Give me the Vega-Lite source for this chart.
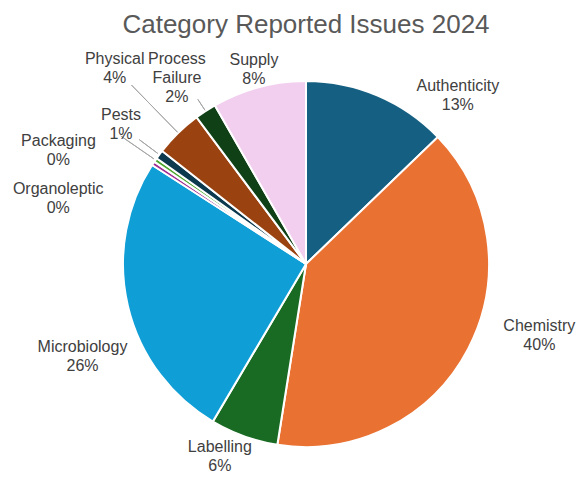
{
  "$schema": "https://vega.github.io/schema/vega-lite/v6.json",
  "width": 558,
  "height": 440,
  "autosize": "none",
  "padding": {"left": 27, "top": 44, "right": 0, "bottom": 8},
  "background": "white",
  "config": {"view": {"stroke": null}},
  "title": {"text": "Category Reported Issues 2024", "fontSize": 26, "font": "Liberation Sans", "fontWeight": "normal", "color": "#595959", "anchor": "middle", "offset": 6},
  "data": {"values": [
    {"category": "Authenticity", "value": 12.8},
    {"category": "Chemistry", "value": 39.7},
    {"category": "Labelling", "value": 6.0},
    {"category": "Microbiology", "value": 25.6},
    {"category": "Organoleptic", "value": 0.35},
    {"category": "Packaging", "value": 0.35},
    {"category": "Pests", "value": 0.8},
    {"category": "Physical", "value": 4.2},
    {"category": "Process Failure", "value": 1.9},
    {"category": "Supply", "value": 8.3}
  ]},
  "transform": [
    {"stack": "value", "groupby": [], "sort": [{"field": "category", "order": "ascending"}], "as": ["s0", "s1"]},
    {"calculate": "(datum.s0 + datum.s1) / 2", "as": "mid"},
    {"calculate": "split(datum.category + ' ' + format(datum.value / 100, '.0%'), ' ')", "as": "label"}
  ],
  "layer": [
    {
      "mark": {"type": "arc", "radius": 183, "stroke": "white", "strokeWidth": 2},
      "encoding": {
        "theta": {"field": "s0", "type": "quantitative", "scale": {"type": "linear", "domain": [0, 100], "range": [0, 6.283185307179586]}},
        "theta2": {"field": "s1"},
        "color": {"field": "category", "type": "nominal", "legend": null, "scale": {
          "domain": ["Authenticity", "Chemistry", "Labelling", "Microbiology", "Organoleptic", "Packaging", "Pests", "Physical", "Process Failure", "Supply"],
          "range": ["#156082", "#E97132", "#196B24", "#0F9ED5", "#A02B93", "#4EA72E", "#0D394E", "#9A4310", "#0F4016", "#F2CEEF"]}}
      }
    },
    {"transform": [{"filter": "datum.category === 'Packaging'"}], "mark": {"type": "arc", "radius": 225, "radius2": 185, "stroke": "#A6A6A6", "strokeWidth": 1, "fillOpacity": 0}, "encoding": {"theta": {"field": "mid", "type": "quantitative", "scale": {"type": "linear", "domain": [0, 100], "range": [0, 6.283185307179586]}}, "theta2": {"field": "mid"}}},
    {"transform": [{"filter": "datum.category === 'Pests'"}], "mark": {"type": "arc", "radius": 208, "radius2": 185, "stroke": "#A6A6A6", "strokeWidth": 1, "fillOpacity": 0}, "encoding": {"theta": {"field": "mid", "type": "quantitative", "scale": {"type": "linear", "domain": [0, 100], "range": [0, 6.283185307179586]}}, "theta2": {"field": "mid"}}},
    {"transform": [{"filter": "datum.category === 'Physical'"}], "mark": {"type": "arc", "radius": 250, "radius2": 184, "stroke": "#A6A6A6", "strokeWidth": 1, "fillOpacity": 0}, "encoding": {"theta": {"field": "mid", "type": "quantitative", "scale": {"type": "linear", "domain": [0, 100], "range": [0, 6.283185307179586]}}, "theta2": {"field": "mid"}}},
    {"transform": [{"filter": "datum.category === 'Process Failure'"}], "mark": {"type": "arc", "radius": 197, "radius2": 184, "stroke": "#A6A6A6", "strokeWidth": 1, "fillOpacity": 0}, "encoding": {"theta": {"field": "mid", "type": "quantitative", "scale": {"type": "linear", "domain": [0, 100], "range": [0, 6.283185307179586]}}, "theta2": {"field": "mid"}}},
    {"transform": [{"filter": "datum.category === 'Authenticity'"}], "mark": {"type": "text", "radius": 227, "dx": 63, "dy": 31, "fontSize": 16, "font": "Liberation Sans", "fill": "#404040", "lineHeight": 19, "align": "center", "baseline": "middle"}, "encoding": {"theta": {"field": "mid", "type": "quantitative", "scale": {"type": "linear", "domain": [0, 100], "range": [0, 6.283185307179586]}}, "text": {"field": "label"}}},
    {"transform": [{"filter": "datum.category === 'Chemistry'"}], "mark": {"type": "text", "radius": 244, "dx": 17, "dy": -51, "fontSize": 16, "font": "Liberation Sans", "fill": "#404040", "lineHeight": 19, "align": "center", "baseline": "middle"}, "encoding": {"theta": {"field": "mid", "type": "quantitative", "scale": {"type": "linear", "domain": [0, 100], "range": [0, 6.283185307179586]}}, "text": {"field": "label"}}},
    {"transform": [{"filter": "datum.category === 'Labelling'"}], "mark": {"type": "text", "radius": 210, "dx": -15, "dy": -15, "fontSize": 16, "font": "Liberation Sans", "fill": "#404040", "lineHeight": 19, "align": "center", "baseline": "middle"}, "encoding": {"theta": {"field": "mid", "type": "quantitative", "scale": {"type": "linear", "domain": [0, 100], "range": [0, 6.283185307179586]}}, "text": {"field": "label"}}},
    {"transform": [{"filter": "datum.category === 'Microbiology'"}], "mark": {"type": "text", "radius": 242, "dx": 12, "dy": 27, "fontSize": 16, "font": "Liberation Sans", "fill": "#404040", "lineHeight": 19, "align": "center", "baseline": "middle"}, "encoding": {"theta": {"field": "mid", "type": "quantitative", "scale": {"type": "linear", "domain": [0, 100], "range": [0, 6.283185307179586]}}, "text": {"field": "label"}}},
    {"transform": [{"filter": "datum.category === 'Organoleptic'"}], "mark": {"type": "text", "radius": 256, "dx": -34, "dy": 66, "fontSize": 16, "font": "Liberation Sans", "fill": "#404040", "lineHeight": 19, "align": "center", "baseline": "middle"}, "encoding": {"theta": {"field": "mid", "type": "quantitative", "scale": {"type": "linear", "domain": [0, 100], "range": [0, 6.283185307179586]}}, "text": {"field": "label"}}},
    {"transform": [{"filter": "datum.category === 'Packaging'"}], "mark": {"type": "text", "radius": 273, "dx": -23, "dy": 32, "fontSize": 16, "font": "Liberation Sans", "fill": "#404040", "lineHeight": 19, "align": "center", "baseline": "middle"}, "encoding": {"theta": {"field": "mid", "type": "quantitative", "scale": {"type": "linear", "domain": [0, 100], "range": [0, 6.283185307179586]}}, "text": {"field": "label"}}},
    {"transform": [{"filter": "datum.category === 'Pests'"}], "mark": {"type": "text", "radius": 232, "dx": 1, "dy": -10, "fontSize": 16, "font": "Liberation Sans", "fill": "#404040", "lineHeight": 19, "align": "center", "baseline": "middle"}, "encoding": {"theta": {"field": "mid", "type": "quantitative", "scale": {"type": "linear", "domain": [0, 100], "range": [0, 6.283185307179586]}}, "text": {"field": "label"}}},
    {"transform": [{"filter": "datum.category === 'Physical'"}], "mark": {"type": "text", "radius": 274, "dx": 0, "dy": -9, "fontSize": 16, "font": "Liberation Sans", "fill": "#404040", "lineHeight": 19, "align": "center", "baseline": "middle"}, "encoding": {"theta": {"field": "mid", "type": "quantitative", "scale": {"type": "linear", "domain": [0, 100], "range": [0, 6.283185307179586]}}, "text": {"field": "label"}}},
    {"transform": [{"filter": "datum.category === 'Process Failure'"}], "mark": {"type": "text", "radius": 226, "dx": -5, "dy": -16, "fontSize": 16, "font": "Liberation Sans", "fill": "#404040", "lineHeight": 19, "align": "center", "baseline": "middle"}, "encoding": {"theta": {"field": "mid", "type": "quantitative", "scale": {"type": "linear", "domain": [0, 100], "range": [0, 6.283185307179586]}}, "text": {"field": "label"}}},
    {"transform": [{"filter": "datum.category === 'Supply'"}], "mark": {"type": "text", "radius": 202, "dx": 0, "dy": -9, "fontSize": 16, "font": "Liberation Sans", "fill": "#404040", "lineHeight": 19, "align": "center", "baseline": "middle"}, "encoding": {"theta": {"field": "mid", "type": "quantitative", "scale": {"type": "linear", "domain": [0, 100], "range": [0, 6.283185307179586]}}, "text": {"field": "label"}}}
  ]
}
